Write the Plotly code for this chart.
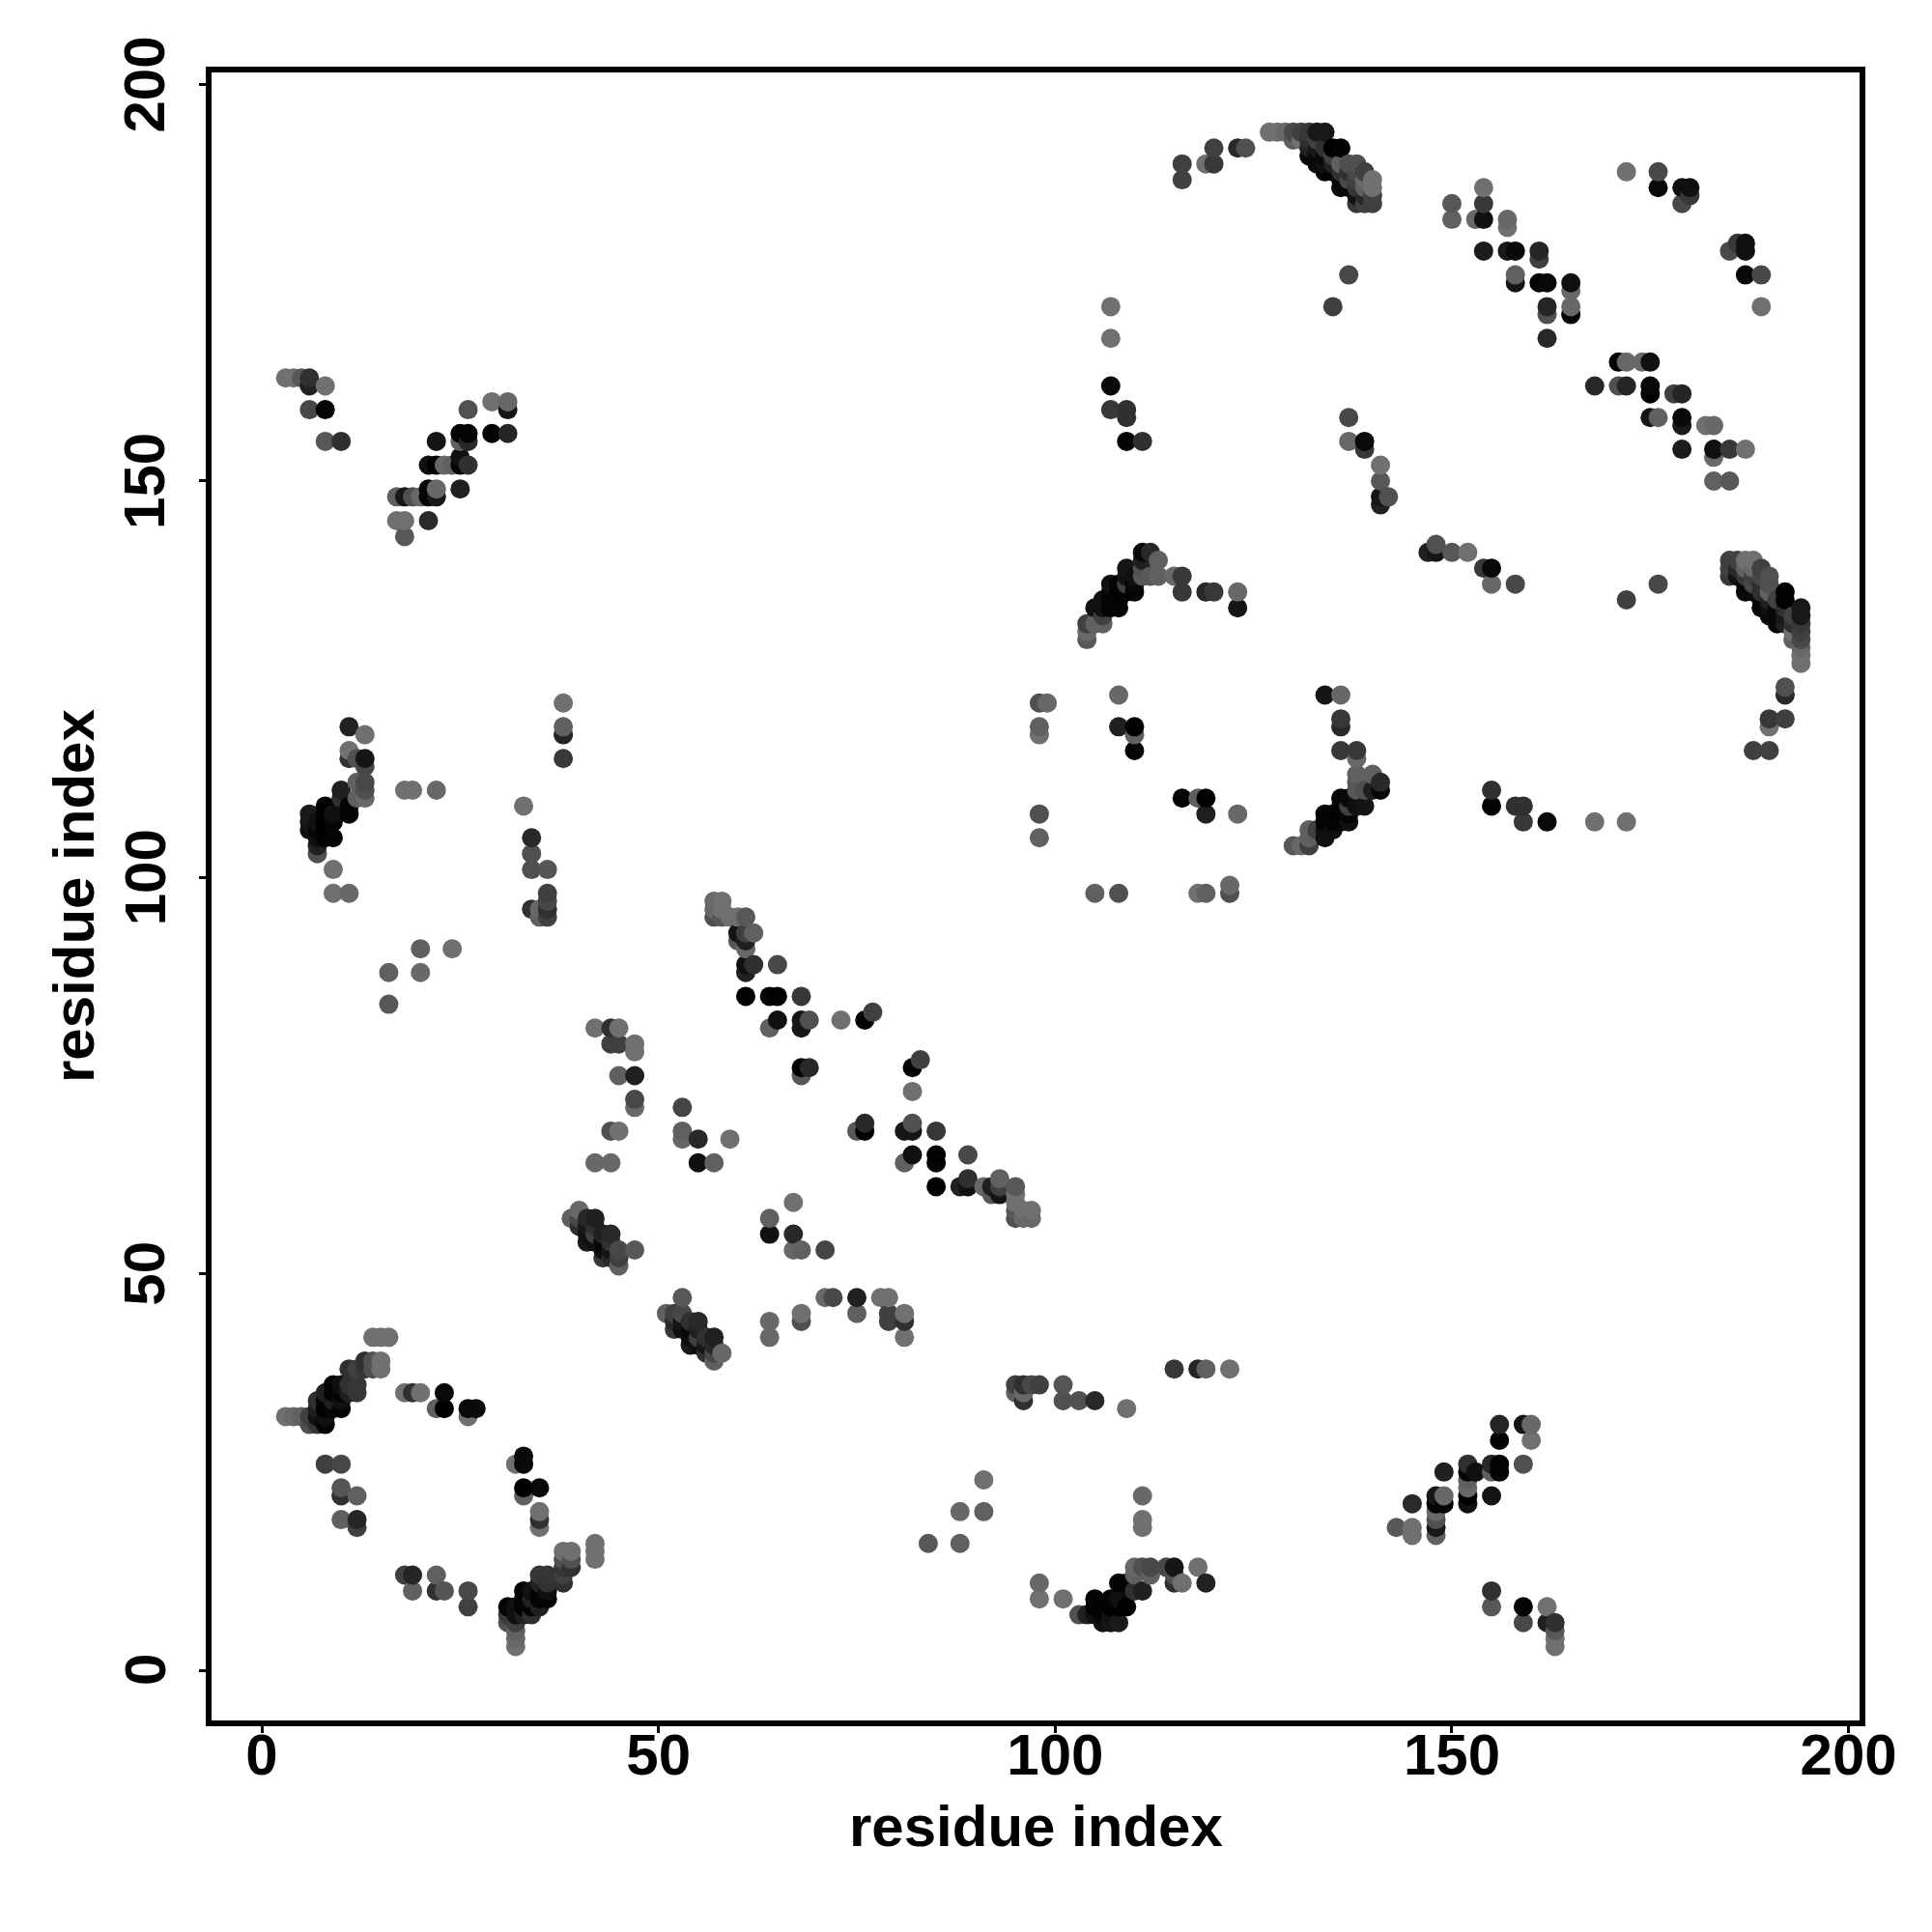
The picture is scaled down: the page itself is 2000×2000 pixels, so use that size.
import plotly.graph_objects as go

# (residue i, residue j, gray level) contacts; the map is symmetric
block_a = [(3,32,0x70),(4,32,0x68),(5,32,0x60),(6,32,0x40),(6,31,0x50),(7,31,0x38),(8,31,0x05),(7,32,0x10),(8,32,0x10),
 (7,33,0x20),(8,33,0x02),(9,33,0x05),(10,33,0x05),(7,34,0x30),(8,34,0x05),(9,34,0x20),(10,34,0x10),(8,35,0x20),(9,35,0x05),
 (10,35,0x05),(11,35,0x20),(12,35,0x35),(9,36,0x05),(10,36,0x10),(11,36,0x30),(12,36,0x35),(11,38,0x30),(12,38,0x40),(13,38,0x35),
 (14,38,0x50),(15,38,0x70),(13,39,0x30),(14,39,0x50),(15,39,0x70),(14,42,0x70),(15,42,0x70),(16,42,0x70)]
block_b = [(8,26,0x40),(10,26,0x48),(10,23,0x55),(10,22,0x30),(12,22,0x60),(10,19,0x60),(12,19,0x25),(12,18,0x40),
 (18,35,0x70),(19,35,0x30),(20,35,0x70),(23,35,0x08),(22,33,0x60),(23,33,0x00),(26,33,0x0a),(27,33,0x0a),(26,32,0x70)]
block_c = [(11,119,0x22),(13,118,0x70),(11,116,0x70),(11,115,0x30),(12,115,0x50),(13,115,0x15),(13,114,0x48),(12,112,0x60),(13,112,0x48),
 (10,111,0x20),(13,111,0x50),(10,110,0x30),(12,110,0x60),(13,110,0x68),(8,109,0x00),(11,109,0x05),(6,108,0x1a),(8,108,0x02),(9,108,0x10),
 (11,108,0x05),(6,107,0x15),(7,107,0x10),(8,107,0x00),(9,107,0x05),(6,106,0x10),(7,106,0x05),(8,106,0x02),(7,105,0x10),(8,105,0x02),(9,105,0x05),
 (7,104,0x20),(7,103,0x50),(9,101,0x70),(9,98,0x70),(11,98,0x68),(18,111,0x70),(19,111,0x70),(22,111,0x68)]
block_d = [(33,109,0x70),(34,105,0x28),(34,103,0x50),(34,101,0x50),(36,101,0x55),(36,98,0x40),(36,97,0x48),(34,96,0x30),(35,96,0x68),
 (36,96,0x30),(35,95,0x60),(36,95,0x40),(38,122,0x70),(38,119,0x60),(38,118,0x25),(38,115,0x38),(20,91,0x60),(24,91,0x70),(16,88,0x60),
 (20,88,0x68),(16,84,0x58)]
block_e = [(3,163,0x70),(4,163,0x70),(5,163,0x58),(6,163,0x30),(6,162,0x20),(8,162,0x70),(6,159,0x48),(8,159,0x05),(8,155,0x58),(10,155,0x30),
 (18,143,0x58),(17,145,0x70),(18,145,0x70),(21,145,0x2a),(17,148,0x60),(18,148,0x18),(19,148,0x50),(20,148,0x68),(21,148,0x05),(22,148,0x18),
 (21,149,0x05),(22,149,0x68),(25,149,0x20),(21,152,0x10),(22,152,0x02),(23,152,0x68),(24,152,0x60),(25,152,0x05),(26,152,0x30),(25,153,0x10),
 (22,155,0x15),(25,155,0x60),(26,155,0x28),(25,156,0x05),(26,156,0x05),(29,156,0x05),(31,156,0x25),(26,159,0x50),(29,160,0x70),(31,160,0x68),(31,159,0x15)]
block_f = [(57,97,0x68),(58,97,0x70),(57,96,0x68),(58,96,0x70),(57,95,0x50),(58,95,0x58),(59,95,0x70),(60,95,0x70),(61,95,0x58),(60,93,0x15),
 (61,93,0x40),(62,93,0x60),(60,92,0x58),(61,92,0x20),(61,91,0x68),(61,89,0x10),(62,89,0x30),(65,89,0x48),(61,88,0x20),(61,85,0x02),(64,85,0x05),
 (65,85,0x02),(68,85,0x38),(65,82,0x10),(68,82,0x15),(69,82,0x50),(73,82,0x70),(76,82,0x02),(77,83,0x40),(64,81,0x60),(68,81,0x18),(68,76,0x02),
 (69,76,0x28),(68,75,0x58)]
block_g = [(42,81,0x70),(44,81,0x30),(45,81,0x70),(44,79,0x40),(45,79,0x40),(47,79,0x70),(47,78,0x70),(45,75,0x60),(47,75,0x20),(47,72,0x48),
 (47,71,0x68),(44,68,0x50),(45,68,0x70),(42,64,0x68),(44,64,0x68),(53,71,0x45),(53,68,0x60),(53,67,0x68),(55,67,0x28),(59,67,0x70),(55,64,0x10),(57,64,0x60)]
block_h = [(39,57,0x60),(40,58,0x68),(40,57,0x48),(40,56,0x30),(41,57,0x28),(42,57,0x20),(41,56,0x18),(41,55,0x10),(41,54,0x18),(42,56,0x30),(42,55,0x40),
 (42,54,0x10),(43,55,0x20),(43,54,0x08),(44,55,0x28),(44,54,0x30),(43,53,0x10),(44,53,0x15),(43,52,0x38),(44,52,0x28),(45,53,0x48),(45,52,0x40),(45,51,0x60),(47,53,0x58)]
block_i = [(104,130,0x58),(104,131,0x68),(104,132,0x40),(105,132,0x60),(106,132,0x60),(105,134,0x10),(106,134,0x10),(106,133,0x40),(107,134,0x02),(108,134,0x05),
 (106,135,0x10),(107,135,0x05),(108,135,0x05),(107,137,0x10),(108,137,0x05),(107,136,0x05),(108,136,0x02),(109,136,0x05),(110,136,0x05),(109,139,0x15),(109,138,0x10),
 (110,138,0x10),(111,138,0x58),(110,137,0x08),(109,137,0x40),(111,141,0x08),(112,141,0x28),(111,140,0x20),(113,140,0x60),(112,138,0x58),(113,138,0x60),(111,139,0x50),
 (115,138,0x68),(116,138,0x38),(116,136,0x38),(119,136,0x28),(120,136,0x38),(123,136,0x68),(123,134,0x15)]
block_j = [(98,122,0x50),(99,122,0x68),(98,119,0x60),(98,118,0x70),(108,123,0x68),(108,119,0x20),(110,119,0x02),(110,118,0x60),(110,116,0x05),
 (98,108,0x50),(98,105,0x60)]
block_k = [(128,194,0x70),(130,194,0x68),(131,194,0x58),(132,194,0x48),(133,194,0x40),(134,194,0x18),(131,193,0x70),(132,193,0x50),(133,193,0x38),(132,192,0x20),
 (133,192,0x08),(134,192,0x38),(135,192,0x38),(136,192,0x02),(133,191,0x05),(134,191,0x08),(134,190,0x02),(135,190,0x10),(135,189,0x05),(136,189,0x08),(136,188,0x02),
 (137,188,0x10),(137,187,0x05),(138,187,0x15),(138,186,0x05),(139,186,0x30),(137,190,0x58),(138,190,0x50),(137,189,0x30),(138,189,0x48),(138,188,0x20),(139,189,0x40),(139,188,0x45),(140,188,0x70),
 (140,187,0x70),(140,186,0x40),(139,185,0x30),(140,185,0x40),(120,192,0x40),(123,192,0x30),(124,192,0x48),(119,190,0x70),(120,190,0x38),(116,190,0x40),(116,188,0x48),
 (137,176,0x48),(135,172,0x40),(107,172,0x70),(107,168,0x70),(107,162,0x0a),(107,159,0x38),(109,159,0x30),(109,158,0x30),(109,155,0x05),(111,155,0x30),(137,158,0x48),
 (137,155,0x68),(139,155,0x0a),(139,154,0x38),(141,152,0x70),(141,150,0x58),(141,148,0x15),(141,147,0x20),(142,148,0x50)]
block_l = [(150,185,0x58),(150,183,0x60),(154,187,0x70),(154,185,0x2a),(154,183,0x15),(153,183,0x70),(157,183,0x68),(157,182,0x70),(154,179,0x20),(157,179,0x1a),
 (158,179,0x0a),(161,179,0x30),(161,178,0x40),(158,176,0x60),(158,175,0x20),(161,175,0x02),(162,175,0x08),(165,175,0x15),(165,174,0x60),(165,172,0x70),(165,171,0x02),
 (162,172,0x25),(162,171,0x40),(162,168,0x28),(172,189,0x70),(176,189,0x50),(176,187,0x08),(179,187,0x08),(180,187,0x10),(180,186,0x30),(179,185,0x48),
 (171,165,0x00),(172,165,0x68),(174,165,0x68),(175,165,0x10),(168,162,0x28),(171,162,0x50),(172,162,0x25),(175,162,0x08),(175,161,0x00),(178,161,0x40),(179,161,0x25),
 (175,158,0x15),(176,158,0x60),(179,158,0x0a),(179,157,0x1a),(182,157,0x70),(183,157,0x68),(179,154,0x1c),(183,154,0x10),(185,154,0x38),(187,154,0x70),(183,153,0x68),(183,150,0x60),(185,150,0x58),
 (185,179,0x48),(186,180,0x38),(187,180,0x10),(187,179,0x10),(187,176,0x08),(189,176,0x48),(189,172,0x70)]
block_m = [(185,139,0x40),(185,138,0x38),(186,139,0x28),(187,139,0x60),(188,139,0x68),(186,138,0x10),(187,138,0x38),(188,138,0x40),(187,137,0x08),(188,137,0x48),(190,137,0x50),
 (187,136,0x0a),(188,136,0x08),(189,136,0x30),(190,136,0x60),(189,135,0x05),(190,135,0x20),(189,134,0x05),(190,134,0x10),(191,135,0x40),(192,135,0x00),(191,133,0x08),(190,133,0x08),(192,134,0x30),(191,132,0x05),
 (193,133,0x40),(192,133,0x18),(194,133,0x18),(192,132,0x20),(193,132,0x30),(194,132,0x38),(194,131,0x40),(193,130,0x60),(194,130,0x48),(194,129,0x68),(194,127,0x70),(192,124,0x50),(192,123,0x28),
 (190,120,0x38),(192,120,0x40),(190,119,0x70),(188,116,0x40),(190,116,0x40)]

x_ticks = [0, 50, 100, 150, 200]
y_ticks = [0, 50, 100, 150, 200]
x_title = "residue index"
y_title = "residue index"

blocks = block_a + block_b + block_c + block_d + block_e + block_f + block_g + block_h + block_i + block_j + block_k + block_l + block_m
table = {}
for a, b, g in blocks:
    table[(a, b)] = g
    table[(b, a)] = g
points = sorted((a, b, g) for (a, b), g in table.items())
xs = [p[0] for p in points]
ys = [p[1] for p in points]
cols = [f"rgb({p[2]},{p[2]},{p[2]})" for p in points]

FONT = "Liberation Sans"
fig = go.Figure(go.Scatter(x=xs, y=ys, mode="markers",
    marker=dict(size=20, color=cols, line=dict(width=0), opacity=1)))

axis = dict(tickmode="array", ticks="outside", ticklen=9, tickwidth=3, tickcolor="black",
            showgrid=False, zeroline=False, showline=False,
            tickfont=dict(family=FONT, size=60, color="black", weight="bold"))
y_labels = [dict(text=f"<b>{v}</b>", xref="paper", yref="y", x=0, y=v, xanchor="center", yanchor="middle",
                 xshift=-66, yshift=0, textangle=-90, showarrow=False,
                 font=dict(family=FONT, size=60, color="black")) for v in y_ticks]
fig.update_layout(
    width=2000, height=2000, autosize=False,
    paper_bgcolor="white", plot_bgcolor="white", showlegend=False,
    margin=dict(l=208, r=79.5, t=64, b=224.3, pad=0),
    xaxis=dict(range=[-6.7, 201.75], tickvals=x_ticks, ticktext=[str(v) for v in x_ticks], ticklabelstandoff=-29, **axis),
    yaxis=dict(range=[-6.7, 201.9], tickvals=y_ticks, showticklabels=False, **axis),
    shapes=[dict(type="rect", xref="paper", yref="paper", x0=0, x1=1, y0=0, y1=1,
                 line=dict(color="black", width=6), layer="above")],
    annotations=y_labels + [
        dict(text=f"<b>{x_title}</b>", xref="paper", yref="paper", x=0.5, y=0, xanchor="center", yanchor="middle",
             yshift=-106, showarrow=False, font=dict(family=FONT, size=60, color="black")),
        dict(text=f"<b>{y_title}</b>", xref="paper", yref="paper", x=0, y=0.5, xanchor="center", yanchor="middle",
             xshift=-140, textangle=-90, showarrow=False, font=dict(family=FONT, size=60, color="black")),
    ],
)
fig.write_html("out.html")
